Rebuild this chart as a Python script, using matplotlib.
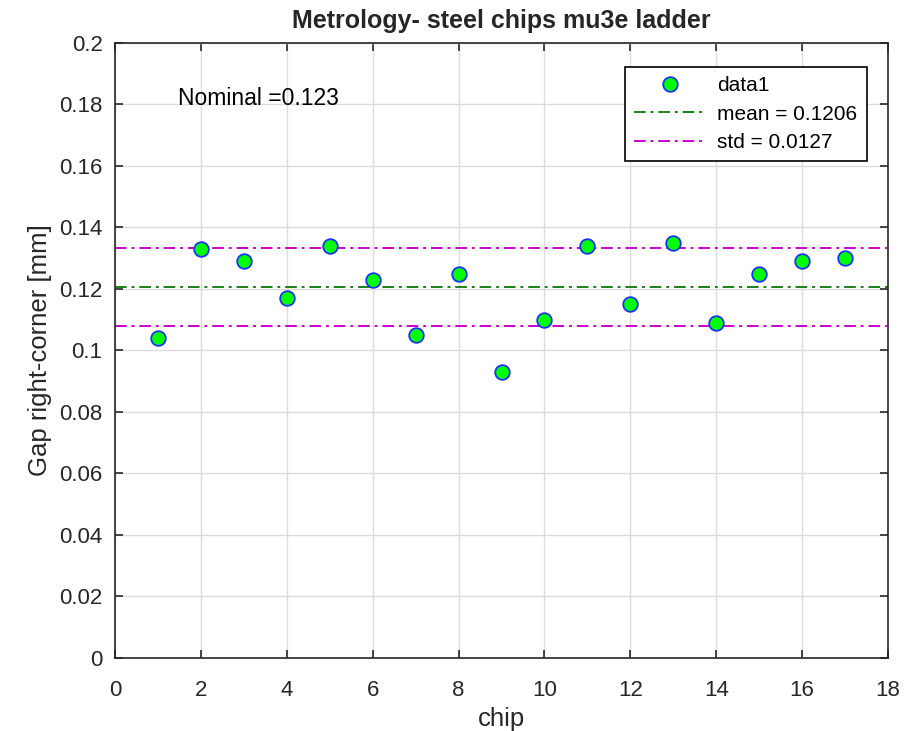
import matplotlib
matplotlib.use("Agg")
import matplotlib.pyplot as plt
import numpy as np

plt.rcParams['font.family'] = ['Liberation Sans', 'DejaVu Sans']

chips = [1, 2, 3, 4, 5, 6, 7, 8, 9, 10, 11, 12, 13, 14, 15, 16, 17]
gap = [0.104, 0.133, 0.129, 0.117, 0.134, 0.123, 0.105, 0.125, 0.093,
       0.110, 0.134, 0.115, 0.135, 0.109, 0.125, 0.129, 0.130]
mean_val = 0.1206
std_val = 0.0127
nominal = 0.123

fig = plt.figure(figsize=(9.15, 7.31), dpi=100)
ax = fig.add_axes([0.1257, 0.0999, 0.8448, 0.8413])

dash = (6, 2.5, 1.5, 2.5)
ax.plot(chips, gap, 'o', markerfacecolor=(0, 1, 0), markeredgecolor=(0.1, 0.2, 1.0),
        markeredgewidth=1.3, markersize=10.5, label='data1', zorder=3)
ax.plot([0, 18], [mean_val, mean_val], color=(0.1, 0.5, 0.1),
        linewidth=1.4, label='mean = %.4f' % mean_val, dashes=dash)
ax.plot([0, 18], [mean_val + std_val, mean_val + std_val], color=(0.8, 0.0, 0.8),
        linewidth=1.4, label='std = %.4f' % std_val, dashes=dash)
ax.plot([0, 18], [mean_val - std_val, mean_val - std_val], color=(0.8, 0.0, 0.8),
        linewidth=1.4, dashes=dash)

ax.set_xlim(0, 18)
ax.set_ylim(0, 0.2)
ax.set_xticks(np.arange(0, 19, 2))
ax.set_yticks(np.arange(0, 0.2001, 0.02))
ax.set_yticklabels(['0', '0.02', '0.04', '0.06', '0.08', '0.1', '0.12', '0.14', '0.16', '0.18', '0.2'])
ax.tick_params(direction='in', top=True, right=True, labelsize=16, length=6, width=1.2,
               colors='#262626')
ax.tick_params(axis='x', pad=16)
ax.tick_params(axis='y', pad=9)
ax.grid(True, color='#dcdcdc', linewidth=1)
ax.set_axisbelow(True)
for s in ax.spines.values():
    s.set_color('#262626')
    s.set_linewidth(1.2)

ax.set_xlabel('chip', fontsize=18.5, color='#262626', labelpad=4)
ax.set_ylabel('Gap right-corner [mm]', fontsize=18.5, color='#262626', labelpad=5)
ax.set_title('Metrology- steel chips mu3e ladder', fontsize=18, fontweight='bold',
             color='#262626', pad=11)

ax.text(1.47, 0.1818, 'Nominal =%.3f' % nominal, fontsize=16.5, va='center', ha='left')

leg = ax.legend(loc='upper right', bbox_to_anchor=(0.9728, 0.961), fontsize=15,
                fancybox=False, edgecolor='black', framealpha=1, handlelength=3.4,
                handletextpad=0.6, borderpad=0.45, labelspacing=0.45, borderaxespad=0)
leg.get_frame().set_linewidth(1.2)

fig.savefig('out.png', dpi=100)
